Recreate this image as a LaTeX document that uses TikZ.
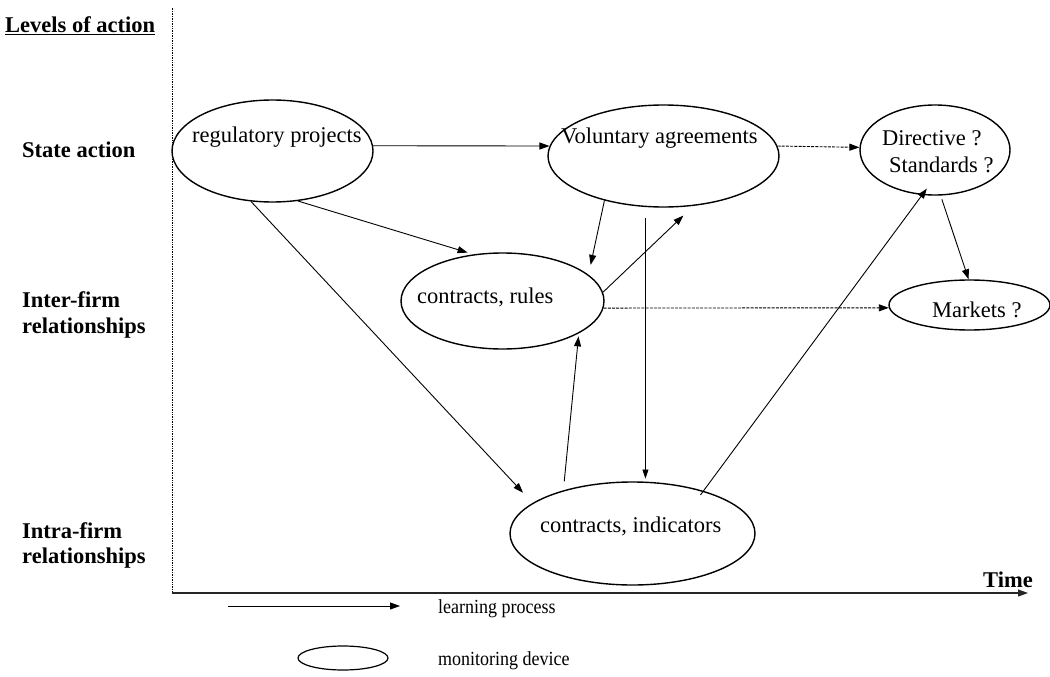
\documentclass[tikz,border=0pt]{standalone}
\usepackage{fontspec}
\setmainfont{Liberation Serif}
\newfontfamily\legfont[FakeStretch=0.9]{Liberation Serif}
\usetikzlibrary{shapes.geometric,arrows.meta}
\begin{document}
\begin{tikzpicture}[x=1pt,y=-1pt,
  dev/.style={draw,ellipse,line width=1.4pt,inner sep=0pt},
  lbl/.style={font=\fontsize{22.5}{26}\selectfont,inner sep=0pt,anchor=base west},
  lvl/.style={font=\fontsize{22.5}{26}\selectfont\bfseries,inner sep=0pt,anchor=base west},
  lrn/.style={line width=0.9pt,-{Triangle[length=10pt,width=7pt]}},
  thinlrn/.style={line width=0.6pt,-{Triangle[length=9pt,width=6pt]}},
  fut/.style={line width=0.9pt,dash pattern=on 3pt off 1.2pt,-{Triangle[length=10pt,width=7pt]}},
  leg/.style={font=\legfont\fontsize{20}{24}\selectfont,inner sep=0pt,anchor=base west}]
\useasboundingbox (0,0) rectangle (1050,677);

% axes
\coordinate (O) at (172,593);
\coordinate (ytop) at (172,8);
\coordinate (xend) at (1028,593);
\draw[line width=0.7pt,densely dotted] (O) -- (ytop);
\draw[line width=1.1pt,black!85,-{Triangle[length=10pt,width=7pt]}] (O) -- (xend);

% level labels
\node[lvl] (levels) at (5,33) {\underline{Levels of action}};
\node[lvl] (state) at (22,157) {State action};
\node[lvl] (inter1) at (22,307) {Inter-firm};
\node[lvl] (inter2) at (22,333) {relationships};
\node[lvl] (intra1) at (22,538) {Intra-firm};
\node[lvl] (intra2) at (22,563) {relationships};
\node[lvl,anchor=base east] (time) at (1033,587) {Time};

% monitoring devices
\node[dev,minimum width=201pt,minimum height=102pt] (reg) at (272.5,151) {};
\node[dev,minimum width=231pt,minimum height=102pt] (vol) at (663.5,156) {};
\node[dev,minimum width=150pt,minimum height=90pt] (dir) at (935,150) {};
\node[dev,minimum width=203pt,minimum height=96pt] (crules) at (502.5,301) {};
\node[dev,minimum width=161pt,minimum height=50pt] (markets) at (969.5,305) {};
\node[dev,minimum width=245pt,minimum height=103pt] (cind) at (632.5,533.5) {};

\node[lbl] (treg) at (192,142) {regulatory projects};
\node[lbl] (tvol) at (561,143) {Voluntary agreements};
\node[lbl] (tdir1) at (882,145) {Directive ?};
\node[lbl] (tdir2) at (889,172) {Standards ?};
\node[lbl] (tcrules) at (417,303) {contracts, rules};
\node[lbl] (tmarkets) at (932,317) {Markets ?};
\node[lbl] (tcind) at (540,532) {contracts, indicators};

% learning processes
\draw[lrn] (reg.3) -- (vol.175);
\draw[fut] (vol.5) -- (dir.178);
\draw[lrn,shorten >=6pt] (reg.297) -- (crules.122);
\draw[lrn,shorten >=14pt] (reg.247) -- (cind.163);
\draw[lrn,shorten >=10pt] (vol.217) -- (crules.17);
\draw[lrn,shorten >=14pt] (crules.5) -- (vol.301);
\draw[thinlrn,shorten <=10pt,shorten >=3pt] (cind.76 |- vol.south) -- (cind.76);
\draw[fut] (crules.356) -- (markets.182);
\draw[lrn,shorten <=9pt,shorten >=3pt] (cind.148) -- (crules.337);
\draw[lrn,shorten <=-5pt,shorten >=-8pt] (cind.31) -- (dir.254);
\draw[lrn,shorten <=4pt] (dir.277) -- (markets.92);

% legend
\coordinate (la) at (228,606);
\coordinate (lb) at (400,606);
\draw[lrn] (la) -- (lb);
\node[leg] (tlearn) at (438,613) {learning process};
\node[draw,ellipse,line width=1.2pt,inner sep=0pt,minimum width=90pt,minimum height=24pt] (legdev) at (343,658) {};
\node[leg] (tmon) at (438,665) {monitoring device};
\end{tikzpicture}
\end{document}
